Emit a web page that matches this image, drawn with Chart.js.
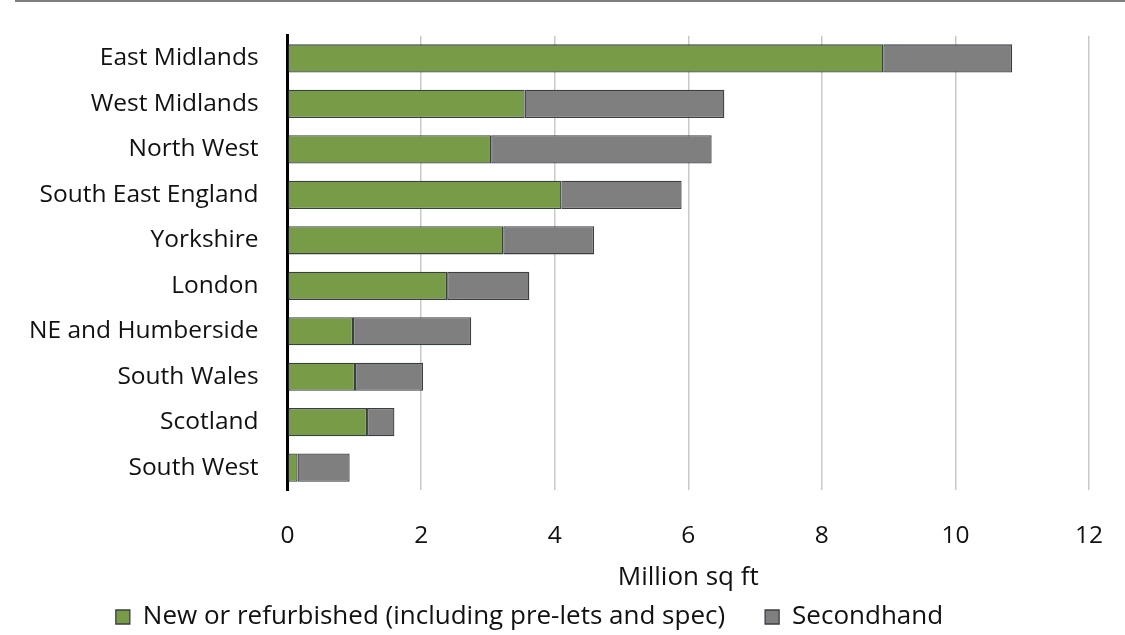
<!DOCTYPE html>
<html lang="en">
<head>
    <meta charset="UTF-8">
    <title>Take-up by region</title>
    <script src="https://cdn.jsdelivr.net/npm/chart.js"></script>
    <style>
        body { margin: 0; background: #fff; }
        #wrap { width: 1125px; height: 635px; position: relative; }
    </style>
</head>
<body>
    <div id="wrap">
        <canvas id="myChart"></canvas>
    </div>

    <script>
        // regions, top to bottom
        const regions = ['East Midlands', 'West Midlands', 'North West', 'South East England', 'Yorkshire',
                         'London', 'NE and Humberside', 'South Wales', 'Scotland', 'South West'];
        // million sq ft
        const newRefurb = [8.92, 3.55, 3.05, 4.10, 3.23, 2.39, 0.98, 1.01, 1.19, 0.15];
        const secondhand = [1.93, 2.99, 3.30, 1.80, 1.36, 1.23, 1.77, 1.02, 0.41, 0.78];
        const seriesNames = ['New or refurbished (including pre-lets and spec)', 'Secondhand'];
        const xTicks = [0, 2, 4, 6, 8, 10, 12];

        const FONT = "'Open Sans', sans-serif";
        const SIZE = 24.5;
        const HIDDEN = 'rgba(0,0,0,0)';

        // grey rule along the top, tighter legend box, legend nudged up/left
        const extras = {
            id: 'extras',
            afterInit(chart) {
                const lg = chart.legend;
                const fit = lg.fit;
                lg.fit = function () {
                    fit.call(this);
                    this.height -= 34;
                };
            },
            afterLayout(chart) {
                const lg = chart.legend;
                lg.left -= 19;
                lg.right -= 19;
                lg.top -= 29;
                lg.bottom = chart.height;
                lg.height = lg.bottom - lg.top;
            },
            beforeDraw(chart) {
                const ctx = chart.ctx;
                ctx.save();
                ctx.strokeStyle = '#7f7f7f';
                ctx.lineWidth = 2;
                ctx.beginPath();
                ctx.moveTo(15, 1);
                ctx.lineTo(chart.width, 1);
                ctx.stroke();
                ctx.restore();
            }
        };

        const data = {
            labels: regions,
            datasets: [{
                label: seriesNames[0],
                data: newRefurb,
                backgroundColor: '#789b48',
                borderColor: '#3a3f44',
                borderWidth: 1.3,
                borderSkipped: false,
                categoryPercentage: 1,
                barPercentage: 0.62
            }, {
                label: seriesNames[1],
                data: secondhand,
                backgroundColor: '#7f7f7f',
                borderColor: '#3a3f44',
                borderWidth: 1.3,
                borderSkipped: false,
                categoryPercentage: 1,
                barPercentage: 0.62
            }]
        };

        const options = {
            indexAxis: 'y',
            responsive: true,
            maintainAspectRatio: false,
            animation: false,
            layout: { padding: { top: 20, right: 36, left: 8, bottom: 0 } },
            scales: {
                x: {
                    stacked: true,
                    min: 0,
                    max: 12,
                    afterBuildTicks: axis => { axis.ticks = xTicks.map(v => ({ value: v })); },
                    grid: { color: '#c9c9c9', lineWidth: 1.5, drawTicks: true, tickLength: 23, tickColor: HIDDEN },
                    border: { display: false },
                    ticks: { color: '#111', padding: 7.5, font: { family: FONT, size: SIZE } },
                    title: {
                        display: true,
                        text: 'Million sq ft',
                        color: '#111',
                        padding: { top: 4, bottom: 0 },
                        font: { family: FONT, size: 26 }
                    }
                },
                y: {
                    stacked: true,
                    grid: { drawOnChartArea: false, drawTicks: true, tickLength: 8, tickColor: HIDDEN },
                    border: { display: true, color: '#000', width: 3 },
                    ticks: { color: '#111', padding: 21, font: { family: FONT, size: SIZE } }
                }
            },
            plugins: {
                legend: {
                    position: 'bottom',
                    labels: {
                        boxWidth: 14,
                        boxHeight: 14,
                        padding: 40,
                        color: '#111',
                        font: { family: FONT, size: 26 }
                    }
                },
                tooltip: { enabled: false }
            }
        };

        const ctx = document.querySelector('#myChart').getContext('2d');
        const myChart = new Chart(ctx, {
            type: 'bar',
            data: data,
            options: options,
            plugins: [extras]
        });
    </script>
</body>
</html>
